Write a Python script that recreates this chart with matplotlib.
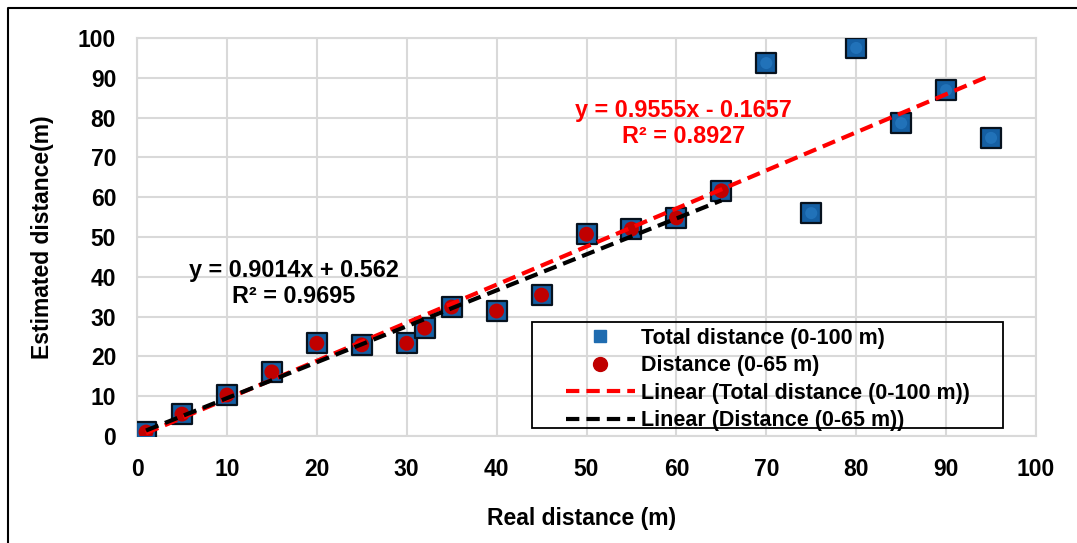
import numpy as np
import matplotlib.pyplot as plt
from matplotlib.patches import Rectangle
from matplotlib.lines import Line2D

plt.rcParams['font.family'] = ['Liberation Sans', 'DejaVu Sans']
plt.rcParams['font.weight'] = 'bold'

# real distance (m)
real_total = [1, 5, 10, 15, 20, 25, 30, 32, 35, 40, 45, 50, 55, 60, 65,
              70, 75, 80, 85, 90, 95]
# estimated distance (m)
est_total = [1.0, 5.5, 10.3, 16.1, 23.3, 22.9, 23.3, 27.1, 32.4, 31.4, 35.4,
             50.7, 52.0, 54.8, 61.6, 93.7, 56.0, 97.5, 78.6, 86.9, 74.9]

real_near = real_total[:15]
est_near = est_total[:15]

eq_total = "y = 0.9555x - 0.1657\nR² = 0.8927"
eq_near = "y = 0.9014x + 0.562\nR² = 0.9695"

W, H = 1077, 543
fig = plt.figure(figsize=(W / 100, H / 100), dpi=100)
ax = fig.add_axes([137 / W, 1 - 436 / H, 899 / W, 398 / H])

ax.scatter(real_total, est_total, marker='s', s=215, c='#155fa3',
           edgecolors='#07121e', linewidths=1.6, zorder=3)
ax.scatter(real_total, est_total, marker='o', s=75, c='#2a7fc8',
           edgecolors='none', alpha=0.6, zorder=3)
ax.scatter(real_near, est_near, marker='o', s=115, c='#c00000',
           edgecolors='none', zorder=4)

# linear trendlines
dash = (0, (3.2, 1.7))
p1 = np.polyfit(real_total, est_total, 1)
xs1 = np.array([min(real_total), max(real_total)])
ax.plot(xs1, np.polyval(p1, xs1), color='#ff0000', lw=3, ls=dash, zorder=5)
p2 = np.polyfit(real_near, est_near, 1)
xs2 = np.array([min(real_near), max(real_near)])
ax.plot(xs2, np.polyval(p2, xs2), color='black', lw=3, ls=dash, zorder=5)

ax.text(17.4, 38.3, eq_near, ha='center', va='center', fontsize=16.8,
        fontweight='bold', linespacing=1.2)
ax.text(60.8, 78.5, eq_total, ha='center', va='center', fontsize=16.8,
        fontweight='bold', color='#ff0000', linespacing=1.2)

ax.set_xlim(0, 100)
ax.set_ylim(0, 100)
ax.set_xticks(range(0, 101, 10))
ax.set_yticks(range(0, 101, 10))
ax.grid(True, color='#d9d9d9', lw=1.5)
ax.set_axisbelow(True)
for s in ax.spines.values():
    s.set_color('#d9d9d9')
    s.set_linewidth(1.5)
ax.tick_params(axis='y', length=0, labelsize=16.5, pad=15)
ax.tick_params(axis='x', length=0, labelsize=16.5, pad=16)
for lab in ax.get_xticklabels() + ax.get_yticklabels():
    lab.set_fontweight('bold')

ax.set_xlabel('Real distance (m)', fontsize=16.5, fontweight='bold')
ax.set_ylabel('Estimated distance(m)', fontsize=16.5, fontweight='bold')
ax.xaxis.set_label_coords(0.494, -0.178)
ax.yaxis.set_label_coords(-0.092, 0.5)

# legend
handles = [
    Line2D([], [], ls='none', marker='s', ms=8, mfc='#1f6cb0', mec='#1f6cb0'),
    Line2D([], [], ls='none', marker='o', ms=10, mfc='#c00000', mec='#c00000'),
    Line2D([], [], color='#ff0000', lw=3, ls=dash),
    Line2D([], [], color='black', lw=3, ls=dash),
]
labels = ['Total distance (0-100 m)', 'Distance (0-65 m)',
          'Linear (Total distance (0-100 m))', 'Linear (Distance (0-65 m))']
leg = ax.legend(handles, labels, loc='upper left',
                bbox_to_anchor=(566 / W, 1 - 328 / H), bbox_transform=fig.transFigure,
                fontsize=15.5, frameon=False, borderpad=0, borderaxespad=0,
                handlelength=3.2, handletextpad=0.3, labelspacing=0.3)
for t in leg.get_texts():
    t.set_fontweight('bold')
fig.patches.append(Rectangle((532 / W, 1 - 428 / H), 471 / W, 106 / H,
                             transform=fig.transFigure, fill=False,
                             edgecolor='black', lw=1.3, zorder=6))

# outer chart border (top and left visible)
fig.lines.append(Line2D([7.5 / W, 7.5 / W, 1], [0, 1 - 8 / H, 1 - 8 / H],
                        transform=fig.transFigure, color='black', lw=1.5))

fig.savefig('out.png', dpi=100)
